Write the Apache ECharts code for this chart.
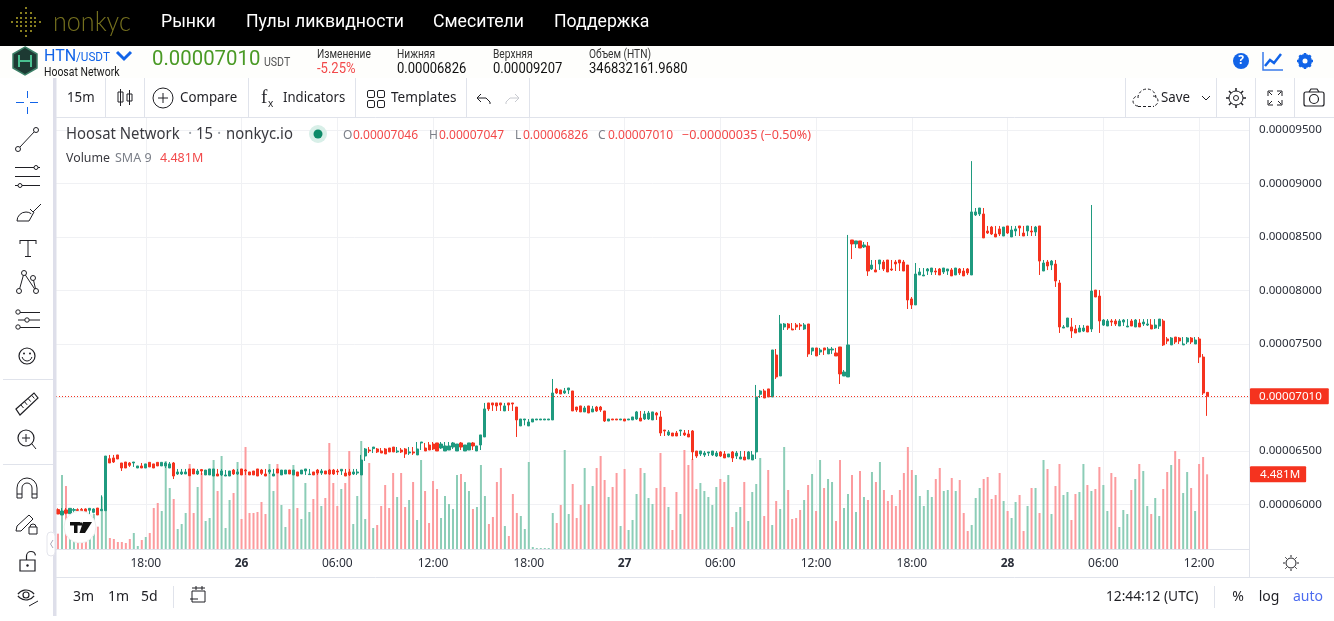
<!DOCTYPE html>
<html><head><meta charset="utf-8">
<script src="https://cdn.jsdelivr.net/npm/echarts@6/dist/echarts.min.js"></script>
<style>html,body{margin:0;padding:0;background:#fff;overflow:hidden}#c{width:1334px;height:621px}</style>
</head><body><div id="c"></div>
<script>
// prices in units of 0.00000001 USDT: [open, close, low, high]
const candles = [
[5950,5909,5909,5962],[5900,5937,5900,5965],[5947,5916,5906,5965],[5912,5962,5912,5962],[5944,5950,5916,5965],[5950,5940,5937,5962],[5953,5940,5934,5965],[5956,5934,5931,5962],[5944,5962,5909,5962],[5925,5956,5916,5962],
[5965,5900,5900,5965],[5940,5953,5940,6084],[5940,6451,5940,6451],[6426,6386,6386,6461],[6433,6395,6386,6461],[6461,6423,6423,6461],[6386,6339,6311,6386],[6395,6339,6339,6395],[6386,6364,6349,6395],[6386,6395,6349,6395],
[6339,6358,6339,6358],[6358,6339,6339,6386],[6339,6377,6339,6377],[6392,6349,6349,6392],[6377,6339,6339,6377],[6392,6358,6358,6392],[6358,6392,6358,6392],[6358,6386,6339,6395],[6339,6377,6339,6395],[6386,6264,6236,6395],
[6283,6302,6274,6330],[6283,6302,6274,6330],[6283,6302,6283,6330],[6330,6267,6267,6330],[6330,6283,6283,6330],[6283,6311,6274,6330],[6324,6311,6274,6330],[6274,6320,6274,6320],[6274,6330,6274,6330],[6264,6330,6264,6330],
[6283,6264,6264,6330],[6274,6311,6264,6330],[6264,6274,6264,6320],[6264,6311,6264,6311],[6320,6283,6274,6330],[6283,6302,6274,6330],[6330,6274,6274,6330],[6320,6311,6274,6330],[6302,6274,6274,6302],[6311,6274,6274,6311],
[6330,6264,6264,6330],[6320,6289,6274,6330],[6283,6264,6264,6330],[6302,6320,6283,6330],[6264,6283,6264,6330],[6330,6292,6292,6330],[6274,6320,6274,6320],[6283,6320,6283,6320],[6320,6283,6283,6320],[6274,6320,6274,6320],
[6302,6264,6264,6302],[6283,6320,6283,6320],[6311,6330,6274,6330],[6277,6283,6274,6330],[6302,6274,6274,6302],[6320,6292,6274,6330],[6292,6311,6274,6330],[6311,6283,6283,6311],[6320,6283,6274,6330],[6320,6283,6274,6330],
[6311,6302,6274,6330],[6311,6327,6274,6327],[6292,6264,6264,6330],[6302,6274,6264,6330],[6283,6302,6274,6330],[6292,6302,6274,6330],[6274,6414,6274,6461],[6451,6517,6405,6526],[6507,6498,6479,6535],[6520,6535,6479,6535],
[6517,6489,6479,6526],[6498,6479,6479,6526],[6517,6470,6470,6526],[6526,6489,6489,6526],[6535,6489,6489,6535],[6489,6498,6479,6535],[6507,6489,6479,6526],[6517,6470,6433,6526],[6479,6489,6461,6535],[6489,6479,6461,6535],
[6461,6517,6461,6582],[6573,6582,6507,6582],[6526,6498,6498,6573],[6554,6507,6507,6582],[6563,6517,6507,6582],[6573,6498,6498,6573],[6526,6563,6517,6582],[6498,6545,6498,6582],[6507,6545,6507,6582],[6535,6573,6517,6582],
[6498,6563,6498,6563],[6573,6535,6507,6582],[6498,6554,6498,6554],[6507,6573,6507,6573],[6573,6545,6507,6582],[6498,6545,6498,6545],[6554,6648,6507,6648],[6629,6891,6629,6947],[6947,6891,6872,6947],[6947,6928,6872,6947],
[6947,6919,6872,6947],[6947,6928,6872,6947],[6872,6919,6872,6947],[6947,6928,6872,6947],[6947,6937,6872,6947],[6909,6788,6629,6909],[6732,6797,6732,6797],[6788,6797,6738,6797],[6732,6769,6732,6797],[6769,6797,6769,6797],
[6788,6797,6788,6797],[6788,6797,6788,6797],[6788,6797,6788,6797],[6788,6797,6788,6797],[6788,7040,6788,7171],[7077,7040,7031,7087],[7068,7031,7031,7068],[7040,7059,7031,7087],[7068,7087,7031,7087],[7059,6872,6872,7059],
[6909,6881,6863,6909],[6919,6863,6863,6919],[6863,6900,6863,6919],[6919,6853,6853,6919],[6863,6891,6863,6919],[6909,6872,6863,6919],[6909,6881,6863,6919],[6872,6778,6769,6872],[6778,6797,6778,6797],[6797,6788,6788,6797],
[6797,6788,6788,6797],[6788,6797,6788,6797],[6797,6778,6778,6797],[6788,6797,6788,6797],[6788,6816,6788,6816],[6797,6863,6788,6872],[6806,6778,6778,6872],[6797,6844,6788,6872],[6797,6853,6788,6872],[6788,6863,6788,6863],
[6853,6834,6788,6863],[6816,6666,6638,6872],[6694,6685,6638,6694],[6648,6676,6638,6694],[6666,6638,6638,6666],[6666,6638,6638,6685],[6685,6694,6638,6694],[6666,6648,6638,6694],[6657,6629,6629,6694],[6685,6489,6414,6694],
[6498,6451,6433,6498],[6470,6498,6451,6498],[6461,6479,6442,6498],[6479,6489,6451,6489],[6461,6498,6451,6498],[6451,6479,6442,6498],[6489,6451,6442,6498],[6470,6433,6433,6498],[6442,6470,6442,6470],[6489,6433,6395,6498],
[6451,6479,6423,6498],[6423,6442,6423,6498],[6442,6414,6414,6498],[6423,6489,6423,6498],[6414,6461,6414,6498],[6489,7003,6423,7115],[7028,7059,6993,7068],[7059,6993,6993,7078],[7078,7003,7003,7078],[7003,7442,7003,7442],
[7395,7190,7171,7451],[7199,7685,7199,7769],[7657,7685,7629,7694],[7685,7648,7629,7694],[7638,7629,7629,7694],[7676,7657,7629,7694],[7676,7666,7629,7694],[7638,7676,7629,7694],[7685,7405,7377,7685],[7433,7461,7395,7461],
[7461,7386,7386,7461],[7423,7442,7395,7461],[7461,7442,7395,7461],[7405,7451,7405,7470],[7442,7451,7405,7470],[7414,7386,7386,7461],[7470,7218,7124,7470],[7199,7236,7199,7255],[7190,7489,7190,8517],[8470,8433,8292,8470],
[8433,8461,8395,8461],[8461,8395,8395,8461],[8405,8423,8395,8451],[8414,8180,8134,8451],[8199,8236,8190,8283],[8190,8171,8171,8283],[8246,8283,8190,8283],[8264,8199,8180,8283],[8283,8171,8171,8283],[8199,8190,8180,8283],
[8264,8246,8180,8283],[8283,8255,8180,8283],[8264,8180,8180,8283],[8236,7909,7825,8236],[7919,7863,7825,7937],[7863,8152,7863,8255],[8143,8171,8143,8208],[8134,8143,8134,8208],[8180,8199,8143,8208],[8171,8208,8143,8208],
[8180,8171,8143,8208],[8199,8143,8143,8208],[8171,8208,8152,8208],[8180,8199,8143,8199],[8190,8134,8134,8208],[8143,8208,8143,8208],[8199,8162,8143,8208],[8180,8134,8134,8208],[8199,8162,8143,8208],[8143,8732,8143,9207],
[8704,8732,8694,8769],[8713,8769,8694,8769],[8713,8489,8489,8769],[8554,8535,8526,8601],[8591,8526,8517,8601],[8526,8498,8498,8601],[8573,8526,8507,8601],[8507,8591,8507,8591],[8601,8535,8526,8601],[8498,8563,8498,8601],
[8554,8573,8507,8601],[8601,8582,8507,8601],[8535,8507,8507,8601],[8554,8601,8507,8601],[8554,8545,8507,8601],[8545,8591,8507,8601],[8601,8273,8143,8601],[8180,8255,8180,8283],[8264,8227,8189,8283],[8236,8273,8189,8283],
[8245,8087,8031,8283],[8068,7657,7601,8096],[7647,7657,7647,7675],[7657,7741,7657,7741],[7657,7619,7554,7741],[7638,7601,7601,7675],[7610,7647,7610,7675],[7619,7647,7610,7675],[7666,7610,7610,7666],[7638,7993,7610,8797],
[8002,7937,7937,8002],[7946,7713,7601,8002],[7675,7722,7666,7731],[7666,7713,7666,7731],[7713,7703,7666,7731],[7713,7685,7666,7731],[7666,7713,7666,7731],[7703,7722,7666,7731],[7657,7666,7657,7731],[7713,7666,7666,7731],
[7657,7722,7657,7731],[7694,7657,7657,7731],[7685,7703,7666,7731],[7675,7685,7666,7731],[7675,7638,7638,7731],[7647,7675,7638,7731],[7666,7731,7638,7731],[7713,7489,7479,7731],[7545,7526,7498,7563],[7489,7554,7489,7563],
[7563,7517,7498,7563],[7554,7526,7498,7563],[7489,7498,7489,7563],[7517,7554,7498,7563],[7554,7517,7498,7563],[7498,7535,7498,7563],[7545,7376,7320,7563],[7376,7040,7021,7404],[7046,7010,6826,7047]
];
// volume in thousands of HTN
const volumes = [
920,4440,3780,1740,540,380,380,420,740,2100,1340,3140,2340,660,600,420,420,360,600,960,
180,540,720,960,2460,2760,2280,5280,3660,3000,1200,1500,2160,5100,2160,3720,4560,1680,1860,5340,
3480,5580,1260,2940,3360,5220,1800,6120,2160,2160,2220,2820,2100,5100,3480,5100,2640,1320,2400,5040,
2460,1800,3960,2220,3000,4560,2580,3060,6360,3960,2580,3600,3960,5880,1500,3180,6480,1800,5160,1260,
1440,2580,3840,2460,4560,3120,4560,2520,2940,4020,1740,5340,3480,1560,4080,3600,1860,3180,2700,2400,
4440,4500,4020,3480,2400,2520,5040,3180,1500,1920,4020,4860,1380,780,3300,2160,1980,1200,5220,120,
60,60,60,60,2160,1560,2640,5940,2100,3900,1860,2640,4860,2700,3780,4860,5580,4140,3120,3720,
4560,1380,4800,1140,1740,3300,4860,4560,3060,2700,3660,5760,3720,2520,1140,3420,2100,5940,5040,5400,
3600,3960,3480,3120,2640,3720,4200,4020,4440,1320,2220,2520,4020,1680,3420,3900,5460,1980,4740,1440,
2880,2400,6120,3540,1800,1860,2340,2940,3840,4500,2280,5340,3660,4200,4020,1680,5340,2460,3300,4440,
2220,4680,3120,2940,4620,4020,5220,3540,2880,3240,2580,3540,4560,6120,4740,4440,3180,2580,3540,3120,
4200,4860,3480,3540,4260,3480,4140,2160,1080,1440,3060,3660,4200,4320,3000,3240,4560,2880,2280,1860,
2820,3240,1080,2580,3660,3660,2160,5340,4800,2100,3780,5100,3240,3420,1740,3300,3420,5100,3840,3480,
3600,4920,3840,2280,4560,4320,1320,2340,2100,3540,4200,5100,4680,2580,2100,3060,1980,3600,4620,5040,
5880,5400,3360,4620,3660,2280,5100,5520,4481
];
const priceTicks = [6000,6500,7000,7500,8000,8500,9000,9500];
const priceLabels = [6000,6500,7500,8000,8500,9000,9500];
const lastPrice = 7010, lastVolume = 4481;
const legendOHLC = ['0.00007046','0.00007047','0.00006826','0.00007010','−0.00000035 (−0.50%)'];

// 15-minute slots from 25th 12:30, with empty space after the last candle
const categories = [];
(function(){ let d=25,m=12*60+30;
  for(let i=0;i<299;i++){ const hh=String(Math.floor(m/60)).padStart(2,'0'),mm=String(m%60).padStart(2,'0');
    categories.push(m===0?String(d):hh+':'+mm); m+=15; if(m===1440){m=0;d++;} } })();

const GREEN='#1f9a7f',RED='#f5331f',VG='#8ccdb7',VR='#fc9b9e',GRID='#f0f1f4',EDGE='#e0e3eb',INK='#1f1f24',BLUE='#1264e8';
const FONT='"Noto Sans",sans-serif';
const fmt=v=>(v/1e8).toFixed(8);
const isLabelSlot=(i,v)=>/^\d\d$/.test(v)||/^(06|12|18):00$/.test(v);

const gfx=[];
const T=(x,y,text,size,fill,o={})=>gfx.push({type:'text',x,y:y+1,z:50,silent:true,scaleX:o.sx||1,style:{text,fill,fontSize:size,fontFamily:o.ff||FONT,fontWeight:o.fw||'normal',align:o.al||'left',verticalAlign:'middle'}});
const R=(x,y,w,h,fill,z=40)=>gfx.push({type:'rect',z,silent:true,shape:{x,y,width:w,height:h},style:{fill}});
const L=(x1,y1,x2,y2,c=INK,w=1)=>gfx.push({type:'line',z:50,silent:true,shape:{x1,y1,x2,y2},style:{stroke:c,lineWidth:w}});
const C=(cx,cy,r,fill,stroke,w=1,z=50)=>gfx.push({type:'circle',z,silent:true,shape:{cx,cy,r},style:{fill:fill||'none',stroke:stroke||'none',lineWidth:w}});
const P=(pts,c=INK,w=1)=>gfx.push({type:'polyline',z:50,silent:true,shape:{points:pts},style:{stroke:c,lineWidth:w,fill:'none'}});
const G=(pts,fill,stroke,w=1,z=50)=>gfx.push({type:'polygon',z,silent:true,shape:{points:pts},style:{fill,stroke:stroke||'none',lineWidth:w}});
const RS=(x,y,w,h,c=INK,lw=1,r=0)=>gfx.push({type:'rect',z:50,silent:true,shape:{x,y,width:w,height:h,r},style:{fill:'none',stroke:c,lineWidth:lw}});
const A=(cx,cy,r,a0,a1,c=INK,w=1,dash)=>gfx.push({type:'arc',z:50,silent:true,shape:{cx,cy,r,startAngle:a0,endAngle:a1},style:{stroke:c,lineWidth:w,fill:'none',lineDash:dash||null}});

// top navigation
R(0,0,1334,46,'#000');
const LOGO='#b5a92a';
[[26,8],[26,13],[26,18],[26,22],[26,26],[26,31],[26,36],[12,22],[17,22],[21,22],[31,22],[35,22],[40,22],[21,13],[31,13],[21,18],[31,18],[21,26],[31,26],[21,31],[31,31],[17,18],[35,18],[17,26],[35,26]].forEach(p=>C(p[0],p[1],1,LOGO));
T(53,21,'nonkyc',27,'#75701e',{ff:'Lato',fw:300,sx:0.93});
const NAV={ff:'Roboto',sx:0.93};
T(161,21,'Рынки',19,'#fff',NAV);T(246,21,'Пулы ликвидности',19,'#fff',NAV);T(433,21,'Смесители',19,'#fff',NAV);T(554,21,'Поддержка',19,'#fff',NAV);
// market strip
R(0,46,1334,32,'#fefefc');
G([[25,47],[37,54],[37,68],[25,75],[13,68],[13,54]],'#1d3a33','#3b7f66',1.5);
L(19,55,19,67,'#49c090',2);L(31,55,31,67,'#49c090',2);L(19,61,31,61,'#49c090',2);
T(44,56,'HTN',16,BLUE,{ff:'Roboto'});T(76,57,'/USDT',13,BLUE,{ff:'Roboto',sx:0.9});
P([[117,52],[124,59],[131,52]],BLUE,3);
T(44,72,'Hoosat Network',12,'#1a1a1a',{ff:'Roboto',sx:0.87});
T(152,59,'0.00007010',21,'#4a9a25',{ff:'Roboto',sx:0.97});T(264,62,'USDT',12,'#555',{ff:'Roboto',sx:0.88});
const SM={ff:'Roboto',sx:0.85},NUM={ff:'Roboto',sx:0.93};
T(317,54,'Изменение',12,'#333',SM);T(317,68,'-5.25%',14,'#f2494a',NUM);
T(397,54,'Нижняя',12,'#333',SM);T(397,68,'0.00006826',14,'#111',NUM);
T(493,54,'Верхняя',12,'#333',SM);T(493,68,'0.00009207',14,'#111',NUM);
T(589,54,'Объем (HTN)',12,'#333',SM);T(589,68,'346832161.9680',14,'#111',NUM);
C(1241,61,8,BLUE);T(1241,60,'?',12,'#fff',{al:'center',fw:'bold'});
P([[1263,52],[1263,70],[1283,70]],'#3a7bea',1.5);P([[1265,66],[1270,60],[1274,63],[1281,54]],BLUE,2.5);
C(1305,61,5,'none',BLUE,4);[0,1,2,3].forEach(i=>{const a=i*Math.PI/4;L(1305-8*Math.cos(a),61-8*Math.sin(a),1305+8*Math.cos(a),61+8*Math.sin(a),BLUE,2.5)});C(1305,61,2.5,'#fefefc');

// top toolbar
R(56,78,1278,39,'#fff');L(56,117.5,1334,117.5,EDGE,1);
[105.5,144.5,248.5,355.5,466.5,529.5,1125.5,1216.5,1255.5,1294.5].forEach(x=>L(x,78,x,117,EDGE));
const TB={sx:0.95};
T(67,97,'15m',14,INK,TB);
L(120.5,89,120.5,106);RS(118,92,5,10);L(129.5,90,129.5,105);RS(127,94,5,7);
C(163,98,10,'none',INK);L(158,98,168,98);L(163,93,163,103);
T(180,97,'Compare',14,INK,TB);
T(261,97,'f',19,INK,{ff:'Liberation Serif',fw:'normal'});T(268,103,'x',10,INK);
T(283,97,'Indicators',14,INK,{sx:0.94});
[[367,90],[377,90],[367,100],[377,100]].forEach(p=>RS(p[0]+.5,p[1]+.5,7,7,INK,1,1.5));
T(391,97,'Templates',14,INK,{sx:0.97});
P([[481,94],[477,98],[481,102]]);P([[478,98],[486,98],[490,102],[490,104]]);
P([[515,94],[519,98],[515,102]],'#c8cad0');P([[518,98],[510,98],[506,102],[506,104]],'#c8cad0');
A(1147,98,9,Math.PI,2*Math.PI,INK,1,[3,2]);
L(1138,106.5,1154,106.5,INK,1);gfx[gfx.length-1].style.lineDash=[3,2];
A(1138,101,5,Math.PI/2,1.5*Math.PI,INK,1,[3,2]);A(1153,101,5,-Math.PI/2,Math.PI/2,INK,1,[3,2]);
T(1161,97,'Save',14,INK,TB);
P([[1202,96],[1206,100],[1210,96]]);
C(1236,98,7,'none',INK);C(1236,98,2.5,'none',INK);[0,1,2,3,4,5,6,7].forEach(i=>{const a=i*Math.PI/4;L(1236+7*Math.cos(a),98+7*Math.sin(a),1236+10*Math.cos(a),98+10*Math.sin(a),INK,1.5)});
[[1268,91,1,1],[1282,91,-1,1],[1268,105,1,-1],[1282,105,-1,-1]].forEach(q=>{P([[q[0]+q[2]*5,q[1]],[q[0],q[1]],[q[0],q[1]+q[3]*5]]);L(q[0]+q[2],q[1]+q[3],q[0]+q[2]*4,q[1]+q[3]*4);});
RS(1304,92,20,14,INK,1.2,2);C(1314,99,4.5,'none',INK,1.2);P([[1309,92],[1311,89],[1317,89],[1319,92]],INK,1.2);

// left toolbar
R(0,78,53,543,'#fff');R(53,78,3.5,538,'#dedfea');
[[3,379.5],[3,464.5]].forEach(p=>L(p[0],p[1],53,p[1],EDGE));
L(16,102.5,24,102.5,BLUE);L(30,102.5,38,102.5,BLUE);L(27.5,91,27.5,98,BLUE);L(27.5,107,27.5,114,BLUE);
L(20,147,35,131);C(18,149,2.5,'#fff',INK);C(36,130,2.5,'#fff',INK);
L(15,167.5,40,167.5);L(15,176.5,40,176.5);L(15,185.5,40,185.5);C(36,167.5,2,'#fff',INK);C(20,185.5,2,'#fff',INK);
A(26,221,9,Math.PI,1.7*Math.PI);P([[17,221],[29,221],[34,212]]);P([[30,209],[33,212],[41,204]]);
L(20,240.5,36,240.5);L(28,240,28,257);L(20,240,20,244);L(36,240,36,244);L(25,256.5,31,256.5);
P([[19,291],[24,273],[36,291],[33,278]]);[[19,291],[24,273],[36,291],[33,278]].forEach(p=>C(p[0],p[1],2.5,'#fff',INK));
L(18,312.5,40,312.5);L(18,327.5,40,327.5);L(18,320,40,320,INK,1);[[18,312],[18,327],[27,320]].forEach(p=>C(p[0],p[1],2.2,'#fff',INK));
C(27,356,8,'none',INK,1.2);C(24,353.5,1,INK);C(30,353.5,1,INK);A(27,356,5,0.2,Math.PI-0.2);
G([[16,409],[34,393],[38,398],[20,415]],'#fff',INK,1.2);[0,1,2,3].forEach(i=>L(21+i*3.6,405-i*3.2,23.5+i*3.6,408-i*3.2));
C(26,438,8,'none',INK,1.2);L(22,438,30,438);L(26,434,26,442);L(32,444,36,449);
A(27,488,10,Math.PI,2*Math.PI);L(17,488,17,498);L(37,488,37,498);A(27,488,5,Math.PI,2*Math.PI);L(22,488,22,498);L(32,488,32,498);L(17,498,22,498);L(32,498,37,498);L(17,494,22,494);L(32,494,37,494);
G([[17,526],[29,515],[33,519],[21,531],[16,531]],'#fff',INK);RS(29,527,8,7);A(33,527,3,Math.PI,2*Math.PI);
RS(20,560,15,11,INK,1.2);A(31,556,4.5,Math.PI,1.95*Math.PI,INK,1.2);L(26.5,556,26.5,560,INK,1.2);C(27.5,565.5,1.2,INK);
A(26,600,10,1.2*Math.PI,1.8*Math.PI,INK,1.2);A(26,590,10,0.2*Math.PI,0.8*Math.PI,INK,1.2);C(26,595,3,'none',INK,1.2);L(29,606,38,601);
gfx.push({type:'rect',z:45,silent:true,shape:{x:47,y:532,width:8,height:24,r:4},style:{fill:'#fff',stroke:'#e4e5ec',lineWidth:1}});
P([[53,540],[50.5,544],[53,548]],'#aab',1);

// chart legend
const LG='#3a3a40',LS={sx:0.93};
T(66,133,'Hoosat Network',16,LG,LS);T(188,133,'·',16,'#9aa0a8');T(196,133,'15',16,LG,LS);T(217,133,'·',16,'#9aa0a8');T(226,133,'nonkyc.io',16,LG,LS);
C(318,134,9,'#d8efe8');C(318,134,4.5,'#0d8a68');
const OFF='#7b7f88';
[[343,'O',353,0],[429,'H',439,1],[515,'L',523,2],[598,'C',608,3]].forEach(r=>{T(r[0],135,r[1],12,OFF);T(r[2],135,legendOHLC[r[3]],12,'#f2494a');});
T(682,135,legendOHLC[4],12,'#f2494a',{sx:1.05});
T(66,157,'Volume',13,LG,{sx:0.95});T(115,157,'SMA 9',12.5,OFF,{sx:1});T(160,157,'4.481M',13,'#f2494a',{sx:0.96});
// TradingView badge
C(80,527,16,'#fff','#eeeeee',1,60);
G([[70,522],[80,522],[80,525.5],[77.5,525.5],[77.5,533],[74,533],[74,525.5],[70,525.5]],'#111',null,1,61);
G([[83,522],[92,522],[85,533],[79.5,533]],'#111',null,1,61);C(81,524,1.7,'#111',null,1,61);

// bottom strip
L(56,577.5,1334,577.5,EDGE);R(56,578,1278,43,'#fff',30);R(0,616,1334,5,'#fff',30);
T(73,596,'3m',14,INK);T(108,596,'1m',14,INK);T(141,596,'5d',14,INK);
L(173.5,586,173.5,608,EDGE);
RS(192,591,13,11,INK);L(192,588,205,588);L(196,586,196,590);L(202,586,202,590);L(190,599,198,599);
T(1106,596,'12:44:12 (UTC)',14,INK,{sx:0.98});L(1214.5,586,1214.5,608,EDGE);
T(1238,596,'%',14,INK,{al:'center'});T(1269,596,'log',14,INK,{al:'center'});T(1293,596,'auto',14,'#4d6cf0');
// axis corner
L(1249.5,549,1249.5,577,EDGE);
C(1291,563,5,'none',INK);[0,1,2,3].forEach(i=>{const a=i*Math.PI/4;L(1291+6*Math.cos(a),563+6*Math.sin(a),1291+8*Math.cos(a),563+8*Math.sin(a));L(1291-6*Math.cos(a),563-6*Math.sin(a),1291-8*Math.cos(a),563-8*Math.sin(a));});

const chart=echarts.init(document.getElementById('c'),null,{renderer:'canvas'});
chart.setOption({
  animation:false,backgroundColor:'#fff',
  graphic:{elements:gfx},
  grid:{left:56,right:85,top:118,bottom:72,containLabel:false},
  xAxis:{type:'category',data:categories,boundaryGap:true,
    axisLine:{show:true,lineStyle:{color:EDGE}},
    axisTick:{show:false,interval:isLabelSlot,alignWithLabel:true},
    splitLine:{show:true,interval:isLabelSlot,alignWithLabel:true,lineStyle:{color:GRID,width:1}},
    axisLabel:{interval:isLabelSlot,margin:9,fontSize:12,fontFamily:FONT,color:'#2a2e39',
      formatter:v=>/^\d\d$/.test(v)?'{d|'+v+'}':v,rich:{d:{fontWeight:'bold',fontSize:12,fontFamily:FONT,color:'#2a2e39'}}}},
  yAxis:[
    {type:'value',position:'right',min:5582,max:9610,scale:true,
     axisLine:{show:true,lineStyle:{color:EDGE}},
     axisTick:{show:false,customValues:priceTicks},
     splitLine:{show:true,lineStyle:{color:GRID,width:1}},
     axisLabel:{customValues:priceLabels,margin:10,fontSize:11.6,fontFamily:FONT,color:'#2a2e39',formatter:fmt,showMinLabel:true,showMaxLabel:true}},
    {type:'value',position:'right',min:0,max:25860,show:false,splitLine:{show:false}}
  ],
  series:[
    {type:'bar',yAxisIndex:1,barWidth:2,silent:true,
     data:volumes.map((v,i)=>({value:v,itemStyle:{color:candles[i][1]>=candles[i][0]?VG:VR}})),
     markLine:{silent:true,symbol:'none',lineStyle:{color:'rgba(0,0,0,0)',width:0},
       label:{show:true,position:'end',distance:1,formatter:()=>'4.481M',color:'#fff',backgroundColor:RED,fontSize:11.6,fontFamily:FONT,padding:[2,6,2,10],borderRadius:1},
       data:[{yAxis:lastVolume}]}},
    {type:'candlestick',yAxisIndex:0,barWidth:2.6,silent:true,data:candles,
     itemStyle:{color:GREEN,color0:RED,borderColor:GREEN,borderColor0:RED,borderWidth:1},
     markLine:{silent:true,symbol:'none',lineStyle:{color:RED,type:[1,2],width:1},
       label:{position:'end',distance:1,formatter:()=>fmt(lastPrice),color:'#fff',backgroundColor:RED,fontSize:11.6,fontFamily:FONT,padding:[2,7,2,9],borderRadius:1},
       data:[{yAxis:lastPrice}]}}
  ]
});
</script></body></html>
